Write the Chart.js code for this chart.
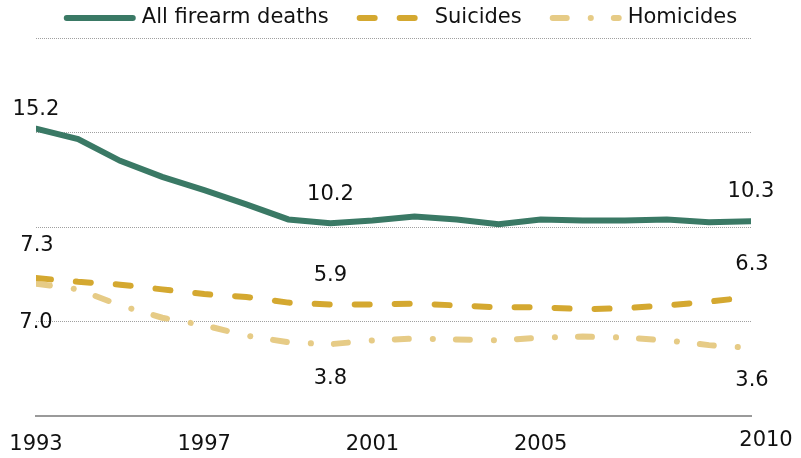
<!DOCTYPE html>
<html>
<head>
<meta charset="utf-8">
<script src="https://cdn.jsdelivr.net/npm/chart.js@4"></script>
<style>
  html, body { margin: 0; padding: 0; background: #fff; }
  #wrap { width: 801px; height: 458px; }
</style>
</head>
<body>
<div id="wrap"><canvas id="gunChart"></canvas></div>
<script>
const years = [1993, 1994, 1995, 1996, 1997, 1998, 1999, 2000, 2001,
               2002, 2003, 2004, 2005, 2006, 2007, 2008, 2009, 2010];
const allDeaths = [15.2, 14.65, 13.5, 12.65, 11.95, 11.2, 10.4, 10.2, 10.35,
                   10.55, 10.4, 10.15, 10.4, 10.35, 10.35, 10.4, 10.25, 10.3];
const suicides = [7.3, 7.1, 6.95, 6.7, 6.45, 6.3, 6.0, 5.9, 5.9,
                  5.95, 5.85, 5.75, 5.75, 5.65, 5.7, 5.85, 6.05, 6.3];
const homicides = [7.0, 6.7, 5.85, 5.2, 4.8, 4.25, 3.9, 3.8, 4.0,
                   4.1, 4.05, 4.0, 4.15, 4.2, 4.15, 4.0, 3.75, 3.6];
const seriesNames = ['All firearm deaths', 'Suicides', 'Homicides'];
const xTicks = [1993, 1997, 2001, 2005, 2010];
const yTicks = [0, 5, 10, 15, 20];

const FONT = '"DejaVu Sans", Verdana, sans-serif';
const INK = '#111';

// which points get a number written next to them: [dataset, point index, dx, dy]
const callouts = [
    [0, 0, 0, -19], [0, 7, 0, -29], [0, 17, 0, -30],
    [1, 0, 1, -32], [1, 7, 0, -29], [1, 17, 1, -32],
    [2, 0, 0, 39], [2, 7, 0, 34], [2, 17, 1, 33]
];

// legend row across the top, styled from the datasets
const legendPlugin = {
    id: 'topLegend',
    afterDraw(chart) {
        const { ctx, width } = chart;
        const slot = 72, gap = 6, between = 28, cy = 18;
        ctx.save();
        ctx.font = '21px ' + FONT;
        const widths = chart.data.datasets.map(ds => ctx.measureText(ds.label).width);
        const total = widths.reduce((s, w) => s + slot + gap + w, 0) + between * (widths.length - 1);
        let x = (width - total) / 2;
        chart.data.datasets.forEach((ds, i) => {
            ctx.beginPath();
            ctx.strokeStyle = ds.borderColor;
            ctx.lineWidth = ds.borderWidth;
            ctx.lineCap = 'round';
            ctx.setLineDash(ds.borderDash || []);
            ctx.moveTo(x + 3, cy);
            ctx.lineTo(x + slot - 3, cy);
            ctx.stroke();
            ctx.setLineDash([]);
            ctx.fillStyle = INK;
            ctx.textAlign = 'left';
            ctx.textBaseline = 'middle';
            ctx.fillText(ds.label, x + slot + gap, cy);
            x += slot + gap + widths[i] + between;
        });
        ctx.restore();
    }
};

const labelPlugin = {
    id: 'labels',
    afterDatasetsDraw(chart) {
        const { ctx, scales: { x, y } } = chart;
        ctx.save();
        ctx.font = '21px ' + FONT;
        ctx.fillStyle = INK;
        ctx.textAlign = 'center';
        ctx.textBaseline = 'middle';
        callouts.forEach(([d, i, dx, dy]) => {
            const v = chart.data.datasets[d].data[i];
            ctx.fillText(v.y.toFixed(1), x.getPixelForValue(v.x) + dx, y.getPixelForValue(v.y) + dy);
        });
        // x axis year labels (last one sits a little to the right)
        xTicks.forEach((t, k) => {
            const last = k === xTicks.length - 1;
            ctx.fillText(String(t), x.getPixelForValue(t) + (last ? 15 : 0), y.getPixelForValue(0) + (last ? 25 : 29));
        });
        ctx.restore();
    }
};

const toPts = arr => arr.map((v, i) => ({ x: years[i], y: v }));

new Chart(document.getElementById('gunChart'), {
    type: 'line',
    data: {
        datasets: [{
            label: seriesNames[0],
            data: toPts(allDeaths),
            borderColor: '#3a7965',
            borderWidth: 6,
            borderCapStyle: 'round',
            pointRadius: 0,
            tension: 0
        }, {
            label: seriesNames[1],
            data: toPts(suicides),
            borderColor: '#d4a830',
            borderWidth: 6,
            borderDash: [15, 25],
            borderCapStyle: 'round',
            pointRadius: 0,
            tension: 0
        }, {
            label: seriesNames[2],
            data: toPts(homicides),
            borderColor: '#e6cb86',
            borderWidth: 6,
            borderDash: [14, 24, 0.1, 23],
            borderCapStyle: 'round',
            pointRadius: 0,
            tension: 0
        }]
    },
    options: {
        responsive: true,
        maintainAspectRatio: false,
        animation: false,
        layout: { padding: { left: 36, right: 50, top: 38, bottom: 34 } },
        plugins: {
            legend: { display: false },
            tooltip: { enabled: false }
        },
        scales: {
            x: {
                type: 'linear',
                min: 1993,
                max: 2010,
                afterBuildTicks: s => { s.ticks = xTicks.map(v => ({ value: v })); },
                ticks: { display: false },
                grid: { display: false },
                border: { display: true, color: '#9a9a9a', width: 2 }
            },
            y: {
                min: 0,
                max: 20,
                afterBuildTicks: s => { s.ticks = yTicks.map(v => ({ value: v })); },
                ticks: { display: false },
                grid: {
                    drawTicks: false,
                    color: ctx => ctx.tick.value === 0 ? 'rgba(0,0,0,0)' : '#a0a0a0',
                    lineWidth: 1
                },
                border: { display: false, dash: [1, 1] }
            }
        }
    },
    plugins: [labelPlugin, legendPlugin]
});
</script>
</body>
</html>
